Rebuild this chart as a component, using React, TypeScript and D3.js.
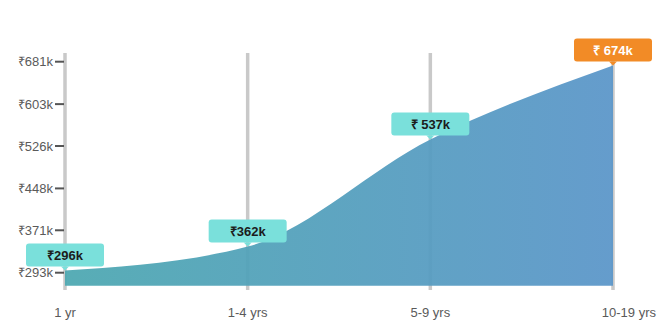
import React from "react";
import * as d3 from "d3";

// ---- data ----
const categories = ["1 yr", "1-4 yrs", "5-9 yrs", "10-19 yrs"];
// value shown in each call-out box (thousands of ₹)
const payLabels = [296, 362, 537, 674];
// height of the curve at each category (thousands of ₹)
const curveValues = [297, 341, 538, 674];
const labelSpaced = [false, false, true, true];
const yTicks = [293, 371, 448, 526, 603, 681];

const W = 664;
const H = 334;
const FONT = "'Liberation Sans', Arial, Helvetica, sans-serif";

export default function App() {
  const x = d3.scalePoint<string>().domain(categories).range([65, 613]);
  const y = d3.scaleLinear().domain([293, 681]).range([272.7, 61.7]);
  const baseY = y(269);

  const pts = categories.map((c, i) => ({ c, v: curveValues[i], label: payLabels[i], i }));

  const area = d3
    .area<(typeof pts)[number]>()
    .x((d) => x(d.c) as number)
    .y0(baseY)
    .y1((d) => y(d.v))
    .curve(d3.curveMonotoneX);

  const boxW = 78;
  const boxH = 23;
  const arrow = 4;

  return (
    <svg
      width={W}
      height={H}
      style={{ position: "absolute", left: 0, top: 0, background: "#fff" }}
      fontFamily={FONT}
    >
      <defs>
        <linearGradient id="areaGrad" x1="0" x2="1" y1="0" y2="0">
          <stop offset="0%" stopColor="#4da8b1" />
          <stop offset="100%" stopColor="#5b96c9" />
        </linearGradient>
      </defs>

      {/* vertical grid lines */}
      {categories.map((c) => (
        <line
          key={c}
          x1={x(c)}
          x2={x(c)}
          y1={53}
          y2={290}
          stroke="#c9c9c9"
          strokeWidth={3.5}
        />
      ))}

      {/* area */}
      <path d={area(pts) || ""} fill="url(#areaGrad)" opacity={0.94} />

      {/* y ticks */}
      {yTicks.map((t) => (
        <g key={t} transform={`translate(0,${y(t)})`}>
          <line x1={55} x2={64} stroke="#555" strokeWidth={2} />
          <text
            x={53}
            dy="0.35em"
            textAnchor="end"
            fontSize={13}
            fill="#5a5a5a"
          >
            {`₹${t}k`}
          </text>
        </g>
      ))}

      {/* x labels */}
      {categories.map((c, i) => {
        const last = i === categories.length - 1;
        return (
          <text
            key={c}
            x={last ? W - 8 : (x(c) as number)}
            y={317}
            textAnchor={last ? "end" : "middle"}
            fontSize={13}
            fill="#5a5a5a"
          >
            {c}
          </text>
        );
      })}

      {/* call-out boxes */}
      {pts.map((p) => {
        const px = x(p.c) as number;
        const py = y(p.v);
        const last = p.i === pts.length - 1;
        const fill = last ? "#f28b26" : "#7ae0db";
        const bottom = py - arrow;
        const top = bottom - boxH;
        return (
          <g key={p.c}>
            <rect
              x={px - boxW / 2}
              y={top}
              width={boxW}
              height={boxH}
              rx={3}
              fill={fill}
            />
            <path
              d={`M${px - 4},${bottom} L${px},${bottom + arrow} L${px + 4},${bottom} Z`}
              fill={fill}
            />
            <text
              x={px}
              y={top + boxH / 2}
              dy="0.36em"
              textAnchor="middle"
              fontSize={13}
              fontWeight="bold"
              fill={last ? "#fff" : "#1c1c1c"}
            >
              {`₹${labelSpaced[p.i] ? " " : ""}${p.label}k`}
            </text>
          </g>
        );
      })}
    </svg>
  );
}
